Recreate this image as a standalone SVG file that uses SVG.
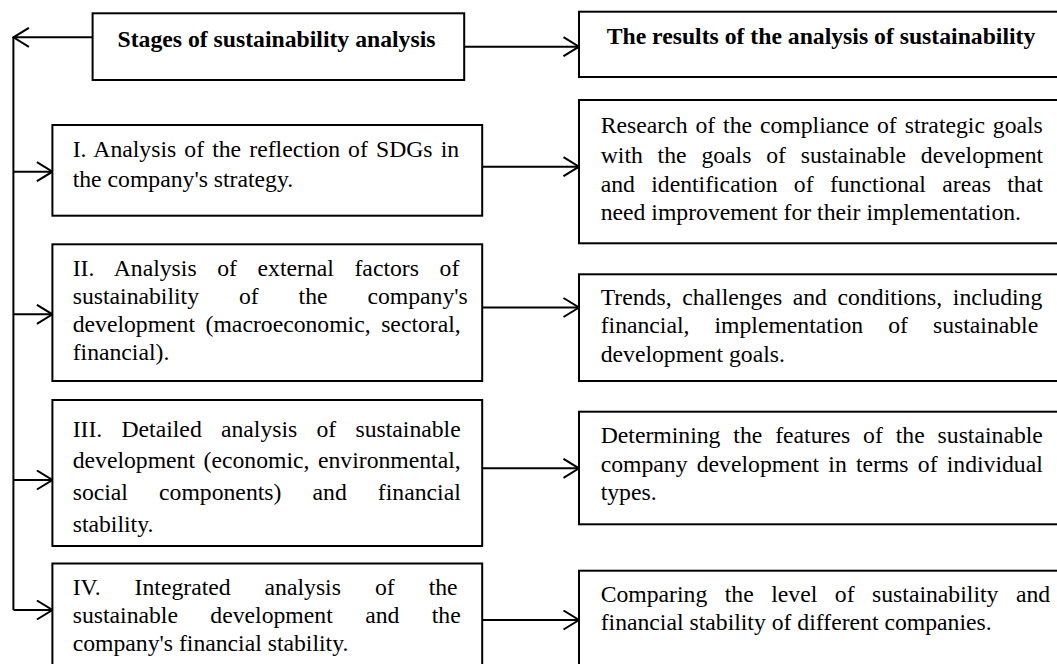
<svg xmlns="http://www.w3.org/2000/svg" width="1057" height="664" viewBox="0 0 1057 664">
<style>
.box{fill:#fff;stroke:#000;stroke-width:2}
.t{font-family:"Liberation Serif","Times New Roman",serif;font-size:23.7px;fill:#000}
.b{font-weight:bold}
.c{fill:none;stroke:#000;stroke-width:2}
</style>
<defs>
<marker id="ah" markerUnits="userSpaceOnUse" viewBox="0 0 18 21" refX="16.5" refY="10.5" markerWidth="18" markerHeight="21" orient="auto">
<path d="M1,1 L16.5,10.5 L1,20" fill="none" stroke="#000" stroke-width="2"/>
</marker>
</defs>
<rect width="1057" height="664" fill="#fff"/>
<g id="connectors">
<path class="c" d="M92.6,37.3 H13.4" marker-end="url(#ah)"/>
<path class="c" d="M13.4,37.3 V610"/>
<path class="c" d="M13.4,171.7 H52.4" marker-end="url(#ah)"/>
<path class="c" d="M13.4,314.3 H52.4" marker-end="url(#ah)"/>
<path class="c" d="M13.4,480 H52.4" marker-end="url(#ah)"/>
<path class="c" d="M13.4,610 H52.4" marker-end="url(#ah)"/>
<path class="c" d="M464.2,46.7 H579" marker-end="url(#ah)"/>
<path class="c" d="M482.2,166.7 H579" marker-end="url(#ah)"/>
<path class="c" d="M482.2,307.5 H579" marker-end="url(#ah)"/>
<path class="c" d="M482.2,468.3 H579" marker-end="url(#ah)"/>
<path class="c" d="M482.2,620 H579" marker-end="url(#ah)"/>
</g>
<g id="stages">
<rect class="box" x="92.6" y="13.3" width="371.6" height="66.7"/>
<text class="t b" x="276.5" y="46.7" text-anchor="middle">Stages of sustainability analysis</text>
</g>
<g id="results">
<rect class="box" x="579" y="11.7" width="490" height="65.3"/>
<text class="t b" x="821" y="44.3" text-anchor="middle">The results of the analysis of sustainability</text>
</g>
<g id="stage1">
<rect class="box" x="52.4" y="125" width="429.8" height="90.7"/>
<text class="t" x="72.7" y="156.7" word-spacing="2.2">I. Analysis of the reflection of SDGs in</text>
<text class="t" x="72.7" y="186.7">the company's strategy.</text>
</g>
<g id="stage2">
<rect class="box" x="52.4" y="244.3" width="429.8" height="136.7"/>
<text class="t" x="72.7" y="276" word-spacing="14.7">II. Analysis of external factors of</text>
<text class="t" x="72.7" y="304.3" word-spacing="34">sustainability of the company's</text>
<text class="t" x="72.7" y="331.7" word-spacing="4.6">development (macroeconomic, sectoral,</text>
<text class="t" x="72.7" y="360">financial).</text>
</g>
<g id="stage3">
<rect class="box" x="52.4" y="400" width="429.8" height="146"/>
<text class="t" x="72.7" y="436.7" word-spacing="13.3">III. Detailed analysis of sustainable</text>
<text class="t" x="72.7" y="468.3" word-spacing="2.6">development (economic, environmental,</text>
<text class="t" x="72.7" y="500" word-spacing="25.2">social components) and financial</text>
<text class="t" x="72.7" y="531.7">stability.</text>
</g>
<g id="stage4">
<rect class="box" x="52.4" y="563.5" width="429.8" height="110"/>
<text class="t" x="72.7" y="595" word-spacing="28.1">IV. Integrated analysis of the</text>
<text class="t" x="72.7" y="623.3" word-spacing="26.5">sustainable development and the</text>
<text class="t" x="72.7" y="650.7">company's financial stability.</text>
</g>
<g id="result1">
<rect class="box" x="579" y="100" width="490" height="143.3"/>
<text class="t" x="600.7" y="133.3" word-spacing="2">Research of the compliance of strategic goals</text>
<text class="t" x="600.7" y="162.7" word-spacing="8.9">with the goals of sustainable development</text>
<text class="t" x="600.7" y="191.7" word-spacing="10.4">and identification of functional areas that</text>
<text class="t" x="600.7" y="220">need improvement for their implementation.</text>
</g>
<g id="result2">
<rect class="box" x="579" y="274.3" width="490" height="106.7"/>
<text class="t" x="600.7" y="305" word-spacing="4.7">Trends, challenges and conditions, including</text>
<text class="t" x="600.7" y="333.3" word-spacing="19.1">financial, implementation of sustainable</text>
<text class="t" x="600.7" y="361.7">development goals.</text>
</g>
<g id="result3">
<rect class="box" x="579" y="411.7" width="490" height="112.6"/>
<text class="t" x="600.7" y="443.3" word-spacing="7">Determining the features of the sustainable</text>
<text class="t" x="600.7" y="471.7" word-spacing="3.3">company development in terms of individual</text>
<text class="t" x="600.7" y="500">types.</text>
</g>
<g id="result4">
<rect class="box" x="579" y="570.7" width="490" height="110"/>
<text class="t" x="600.7" y="601.7" word-spacing="11.6">Comparing the level of sustainability and</text>
<text class="t" x="600.7" y="630">financial stability of different companies.</text>
</g>
</svg>
